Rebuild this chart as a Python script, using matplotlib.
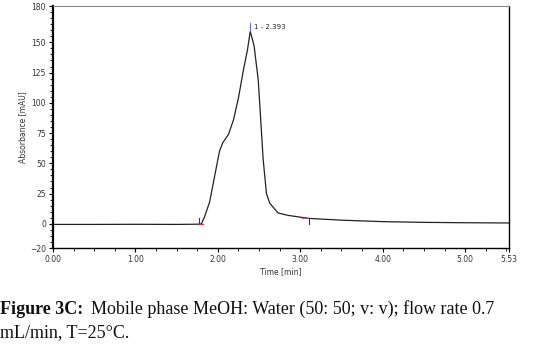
import numpy as np
import matplotlib.pyplot as plt
from matplotlib.ticker import MultipleLocator

# chromatogram trace
time = [0.00, 0.50, 1.00, 1.50, 1.78, 1.80, 1.84, 1.90, 1.96, 2.02, 2.06, 2.13,
        2.19, 2.25, 2.31, 2.36, 2.393, 2.44, 2.49, 2.52, 2.55, 2.59, 2.63, 2.73,
        2.85, 3.10, 3.50, 4.00, 4.50, 5.00, 5.53]
absorb = [-0.5, -0.5, -0.4, -0.5, -0.3, 0.0, 6, 18, 39, 60, 67, 74,
          86, 104, 127, 144, 159, 147, 119, 86, 53, 25, 17, 9,
          7, 4.5, 3.0, 1.8, 1.2, 0.9, 0.7]

peak_time = 2.393
peak_label = "1 - 2.393"
start_time = 1.77
end_time = 3.10

xticks = [0.00, 1.00, 2.00, 3.00, 4.00, 5.00, 5.53]
yticks = [-20, 0, 25, 50, 75, 100, 125, 150, 180]

fig = plt.figure(figsize=(5.39, 3.51), dpi=100)
ax = fig.add_axes([0.0983, 0.2934, 0.8457, 0.6895])

ax.plot(time, absorb, color='#222222', lw=0.9)

# integration markers
ax.plot([start_time, start_time], [0, 5], color='#2030c0', lw=0.8)
ax.plot([start_time, start_time + 0.05], [0, 0], color='#e03020', lw=1.0)
ax.plot([end_time, end_time], [4.5, 0], color='#2030c0', lw=0.8)
ax.plot([end_time - 0.08, end_time], [4.7, 4.5], color='#e03020', lw=0.8)
ax.plot([peak_time, peak_time], [159, 166], color='#6060ff', lw=0.8)
ax.text(peak_time + 0.04, 163, peak_label, fontsize=5, color='#222222',
        va='center', ha='left')

ax.set_xlim(0, 5.53)
ax.set_ylim(-20, 180)
ax.set_xticks(xticks)
ax.set_xticklabels(['%.2f' % v for v in xticks])
ax.set_yticks(yticks)
ax.xaxis.set_minor_locator(MultipleLocator(0.25))
ax.yaxis.set_minor_locator(MultipleLocator(5))
ax.tick_params(which='major', direction='out', length=3, width=0.8,
               labelsize=5.5, labelcolor='#333333', pad=2)
ax.tick_params(which='minor', direction='out', length=2, width=0.6)
ax.set_xlabel('Time [min]', fontsize=5.5, color='#333333', labelpad=2)
ax.set_ylabel('Absorbance [mAU]', fontsize=5.5, color='#333333', labelpad=2)

ax.spines['top'].set_color('#888888')
ax.spines['left'].set_linewidth(1.6)
ax.spines['right'].set_linewidth(1.0)
ax.spines['bottom'].set_linewidth(1.0)

# caption
cap = dict(fontsize=13, family='Liberation Serif', color='#111111', va='baseline')
fig.text(0.0, 0.105, 'Figure 3C:', fontweight='bold', **cap)
fig.text(0.169, 0.105, 'Mobile phase MeOH: Water (50: 50; v: v); flow rate 0.7', **cap)
fig.text(0.0, 0.040, 'mL/min, T=25°C.', **cap)

fig.savefig('out.png', dpi=100)
